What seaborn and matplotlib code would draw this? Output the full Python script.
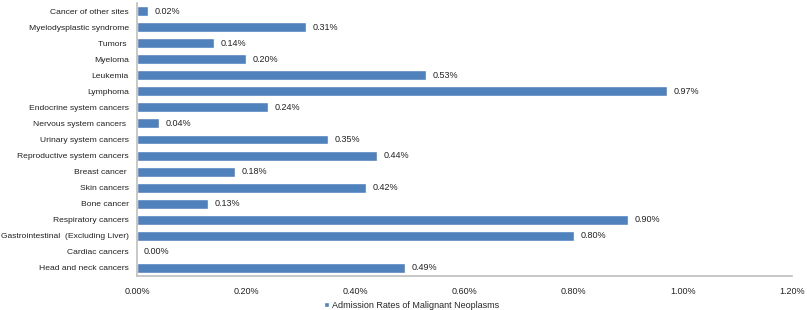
import pandas as pd
import matplotlib
matplotlib.use("Agg")
import matplotlib.pyplot as plt
import seaborn as sns

categories = ["Cancer of other sites", "Myelodysplastic syndrome", "Tumors ", "Myeloma",
              "Leukemia", "Lymphoma", "Endocrine system cancers", "Nervous system cancers ",
              "Urinary system cancers", "Reproductive system cancers", "Breast cancer ",
              "Skin cancers", "Bone cancer", "Respiratory cancers",
              "Gastrointestinal  (Excluding Liver)", "Cardiac cancers", "Head and neck cancers"]
rates = [0.02, 0.31, 0.14, 0.20, 0.53, 0.97, 0.24, 0.04, 0.35, 0.44, 0.18, 0.42, 0.13,
         0.90, 0.80, 0.00, 0.49]
xticks = [0.0, 0.2, 0.4, 0.6, 0.8, 1.0, 1.2]
series_name = "Admission Rates of Malignant Neoplasms"

df = pd.DataFrame({"category": categories, "rate": rates})

sns.set_style("white")
plt.rcParams["font.family"] = ["Liberation Sans", "DejaVu Sans"]
fs = 6.5

fig = plt.figure(figsize=(8.07, 3.10), dpi=100)
ax = fig.add_axes([0.17, 0.11, 0.8116, 0.88])

sns.barplot(data=df, x="rate", y="category", color="#4F81BD", saturation=1,
            width=0.62, ax=ax, label=series_name)

for bar, v in zip(ax.patches, rates):
    ax.text(bar.get_width() + 0.012, bar.get_y() + bar.get_height() / 2,
            f"{v:.2f}%", va="center", ha="left", fontsize=fs, color="#222222")

ax.set_xlim(0, 1.2)
ax.set_ylim(len(categories) - 0.5, -0.5)
ax.set_xticks(xticks)
ax.set_xticklabels([f"{t:.2f}%" for t in xticks], fontsize=fs, color="#222222")
ax.tick_params(axis="y", labelsize=6.1, labelcolor="#222222", length=0, pad=6)
ax.tick_params(axis="x", length=0, pad=8)
ax.set_xlabel("")
ax.set_ylabel("")
for s in ["top", "right"]:
    ax.spines[s].set_visible(False)
for s in ["left", "bottom"]:
    ax.spines[s].set_color("#BFBFBF")
    ax.spines[s].set_linewidth(1.2)

if ax.legend_:
    ax.legend_.remove()
h, l = ax.get_legend_handles_labels()
fig.legend(h, l, loc="lower center", bbox_to_anchor=(0.51, -0.025), frameon=False,
           fontsize=fs, handlelength=0.5, handleheight=0.5, handletextpad=0.3)

fig.savefig("out.png", dpi=100)
